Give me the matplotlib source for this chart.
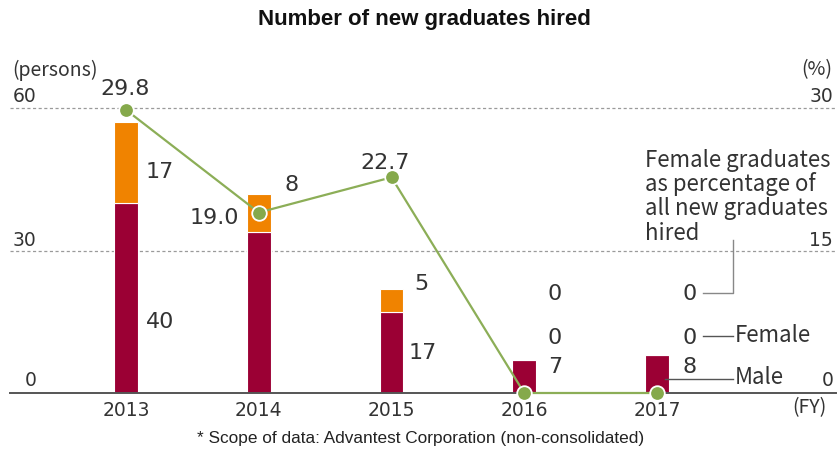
import matplotlib
matplotlib.use("Agg")
import matplotlib.pyplot as plt

years = ["2013", "2014", "2015", "2016", "2017"]
male = [40, 34, 17, 7, 8]
female = [17, 8, 5, 0, 0]
female_pct = [29.8, 19.0, 22.7, 0, 0]
male_labels = ["40", "", "17", "7", "8"]
female_labels = ["17", "8", "5", "0", "0"]
pct_labels = ["29.8", "19.0", "22.7", "0", "0"]
pct_legend_lines = ["Female graduates", "as percentage of", "all new graduates", "hired"]

MALE_C = "#9b0034"
FEMALE_C = "#f08300"
LINE_C = "#8cae57"
TXT = "#333333"
NUMFONT = ["DejaVu Sans"]
WORDFONT = ["Noto Sans CJK JP", "DejaVu Sans"]

W, H = 838, 450
fig = plt.figure(figsize=(W / 100, H / 100), dpi=100)

# axes in pixel geometry
ax_l, ax_r, ax_b, ax_t = 10, 836, 393, 108
ax = fig.add_axes([ax_l / W, (H - ax_b) / H, (ax_r - ax_l) / W, (ax_b - ax_t) / H])
x0, dx = 126, 132.75
ax.set_xlim((ax_l - x0) / dx, (ax_r - x0) / dx)
ax.set_ylim(0, 60)
ax2 = ax.twinx()
ax2.set_ylim(0, 30)
for a in (ax, ax2):
    a.axis("off")

idx = list(range(len(years)))
bw = 0.18
ax.bar(idx, male, width=bw, color=MALE_C, edgecolor="white", linewidth=0.8, zorder=2)
ax.bar(idx, female, width=bw, bottom=male, color=FEMALE_C, edgecolor="white", linewidth=0.8, zorder=2)

# grid lines and base line
for v in (30, 60):
    ax.axhline(v, color="#9a9a9a", linestyle=(0, (2.5, 2)), linewidth=0.9, zorder=1, clip_on=False)
ax.axhline(0, color="#555555", linewidth=1.4, zorder=3, clip_on=False)

ax2.plot(idx, female_pct, color=LINE_C, linewidth=1.6, zorder=4, clip_on=False)
ax2.plot(idx, female_pct, linestyle="none", marker="o", markersize=10.5,
         markerfacecolor="#85a94b", markeredgecolor="white", markeredgewidth=1.3,
         zorder=5, clip_on=False)
ax2.set_zorder(ax.get_zorder() + 1)


def P(px, py):
    """pixel -> figure fraction"""
    return px / W, 1 - py / H


def ftext(px, py, s, **kw):
    kw.setdefault("color", TXT)
    kw.setdefault("family", NUMFONT)
    kw.setdefault("fontsize", 16)
    kw.setdefault("ha", "center")
    kw.setdefault("va", "center")
    fig.text(*P(px, py), s, **kw)


# value labels (pixel positions of annotation text)
pct_pos = [(125, 89), (214, 218), (385, 163), (555, 294), (690, 294)]
fem_pos = [(160, 172), (292, 185), (421, 284), (555, 338), (690, 338)]
male_pos = [(160, 322), (292, 300), (423, 353), (555, 367), (690, 367)]
for i in idx:
    ftext(*pct_pos[i], pct_labels[i])
    ftext(*fem_pos[i], female_labels[i])
    if male_labels[i]:
        ftext(*male_pos[i], male_labels[i])

# axis labels
ftext(12, 70, "(persons)", ha="left", fontsize=14, family=WORDFONT)
ftext(13, 96, "60", ha="left", fontsize=13.5)
ftext(13, 240, "30", ha="left", fontsize=13.5)
ftext(37, 380, "0", ha="right", fontsize=13.5)
ftext(832, 70, "(%)", ha="right", fontsize=14, family=WORDFONT)
ftext(833, 96, "30", ha="right", fontsize=13.5)
ftext(833, 240, "15", ha="right", fontsize=13.5)
ftext(834, 381, "0", ha="right", fontsize=13.5)
for i in idx:
    ftext(x0 + dx * i, 411, years[i], fontsize=13.5)
ftext(809, 408, "(FY)", fontsize=14, family=WORDFONT)

# legend annotations
for k, line in enumerate(pct_legend_lines):
    ftext(645, 160 + 24.5 * k, line, ha="left", fontsize=16, family=WORDFONT)
ftext(735, 336, "Female", ha="left", fontsize=16, family=WORDFONT)
ftext(735, 378, "Male", ha="left", fontsize=16, family=WORDFONT)
LC = "#555555"
fig.add_artist(plt.Line2D([733 / W, 733 / W, 703 / W], [1 - 240 / H, 1 - 293 / H, 1 - 293 / H],
                          color="#888888", linewidth=1, zorder=6))
fig.add_artist(plt.Line2D([703 / W, 733 / W], [1 - 336 / H] * 2, color=LC, linewidth=1, zorder=6))
fig.add_artist(plt.Line2D([665 / W, 733 / W], [1 - 379 / H] * 2, color=LC, linewidth=1, zorder=6))

# title and footnote
fig.text(*P(424, 20), "Number of new graduates hired", ha="center", va="center",
         fontsize=16, fontweight="bold", family="Liberation Sans", color="#111111")
fig.text(*P(421, 438), "* Scope of data: Advantest Corporation (non-consolidated)", ha="center",
         va="center", fontsize=12.4, family="Liberation Sans", color="#222222")

fig.savefig("out.png", dpi=100)
